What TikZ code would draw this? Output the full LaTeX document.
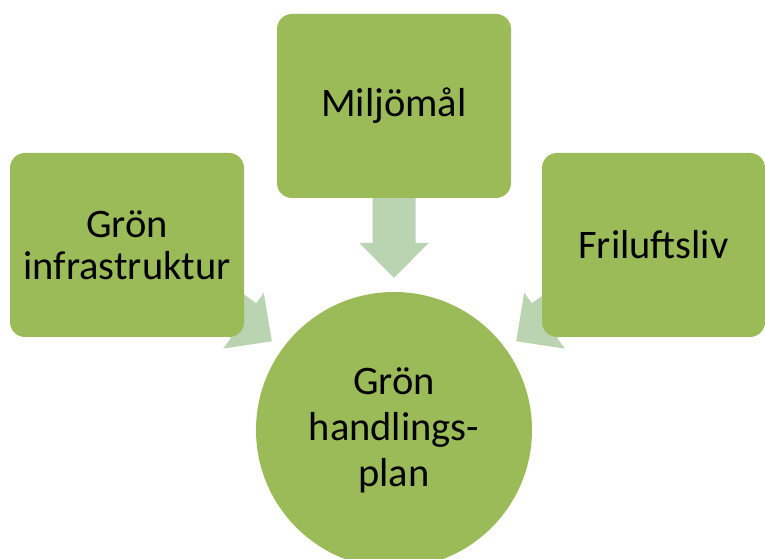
\documentclass[tikz,border=0pt]{standalone}
\usepackage{fontspec}
\setmainfont{Carlito}
\usetikzlibrary{calc,backgrounds}

\definecolor{olivegreen}{HTML}{9BBB59}
\definecolor{palegreen}{HTML}{BAD3B1}

\tikzset{
  goalbox/.style={fill=olivegreen, rounded corners=15pt, minimum width=234pt,
    minimum height=184pt, inner sep=0pt, align=center, text=black,
    font=\fontsize{40.5}{42}\selectfont},
  planball/.style={circle, fill=olivegreen, minimum size=276pt, inner sep=0pt,
    align=center, text=black, font=\fontsize{40.5}{46}\selectfont},
  pics/blockarrow/.style={code={
    \fill[palegreen] (0,0) -- (-35,34.5) -- (-35,21.5) -- (-95,21.5)
      -- (-95,-21.5) -- (-35,-21.5) -- (-35,-34.5) -- cycle;
  }}
}

\begin{document}
\begin{tikzpicture}[x=1pt, y=1pt]
            \useasboundingbox (0,0) rectangle (765,559);
            % the three goals and the plan
            \node[goalbox] (infra) at (127,314) {Grön\\infrastruktur};
            \node[goalbox] (miljo) at (394,453) {Miljömål};
            \node[goalbox, minimum width=223pt] (frilufts) at (653.5,314) {Friluftsliv};
            \node[planball] (plan) at (394,129) {Grön\\handlings-\\plan};
            % arrow tips just outside the circle
            \coordinate (tipinfra) at ($(plan.center)+(144:151)$);
            \coordinate (tipmiljo) at ($(plan.center)+(90:152)$);
            \coordinate (tipfrilufts) at ($(plan.center)+(36:151)$);
            \begin{scope}[on background layer]
                \pic[rotate=-36] at (tipinfra) {blockarrow};
                \pic[rotate=-90] at (tipmiljo) {blockarrow};
                \pic[rotate=216] at (tipfrilufts) {blockarrow};
            \end{scope}
        \end{tikzpicture}
\end{document}
